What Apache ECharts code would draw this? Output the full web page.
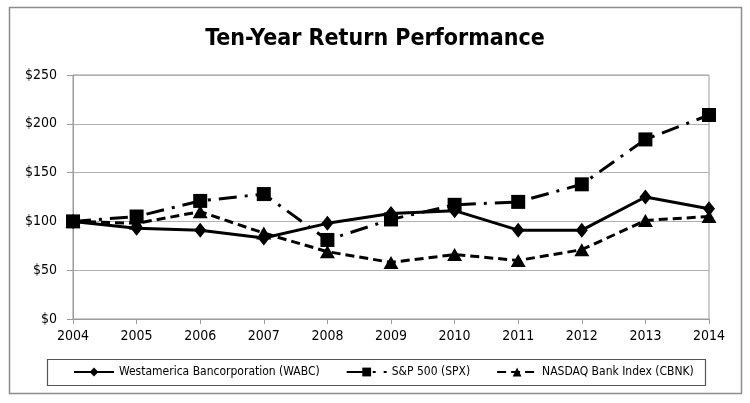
<!DOCTYPE html>
<html>
<head>
<meta charset="utf-8">
<script src="https://cdn.jsdelivr.net/npm/echarts@6/dist/echarts.min.js"></script>
<style>html,body{margin:0;padding:0;background:#fff}#c{width:750px;height:403px}</style>
</head>
<body>
<div id="c"></div>
<script>
const years = ['2004','2005','2006','2007','2008','2009','2010','2011','2012','2013','2014'];
const wabc = [100, 93, 91, 83, 98, 108, 111, 91, 91, 125, 113];
const spx  = [100, 105, 121, 128, 81, 102, 117, 120, 138, 184, 209];
const cbnk = [100, 98, 110, 88, 69, 58, 66, 60, 71, 101, 105];
const yTicks = [0, 50, 100, 150, 200, 250];

const FONT = '"DejaVu Sans Condensed", sans-serif';
const chart = echarts.init(document.getElementById('c'), null, {renderer: 'canvas'});
chart.setOption({
  animation: false,
  backgroundColor: '#fff',
  title: {
    text: 'Ten-Year Return Performance',
    left: 'center', top: 23,
    textStyle: {fontFamily: FONT, fontWeight: 'bold', fontSize: 23, color: '#000'}
  },
  graphic: [
    {type: 'rect', shape: {x: 9.5, y: 7.5, width: 732, height: 386}, style: {fill: null, stroke: '#8c8c8c', lineWidth: 1.5}, z: -1},
    {type: 'rect', shape: {x: 47.5, y: 359.5, width: 658, height: 26}, style: {fill: null, stroke: '#555', lineWidth: 1.2}, z: -1}
  ],
  legend: {
    left: 73, top: 366, width: 640,
    itemWidth: 40, itemHeight: 11, itemGap: 26,
    padding: 0,
    textStyle: {fontFamily: FONT, fontSize: 12, color: '#000'},
    data: ['Westamerica Bancorporation (WABC)', 'S&P 500 (SPX)', 'NASDAQ Bank Index (CBNK)']
  },
  grid: {left: 73, right: 41, top: 75, bottom: 84, show: true, borderColor: '#9a9a9a', borderWidth: 1},
  xAxis: {
    type: 'category', data: years, boundaryGap: false,
    axisLine: {lineStyle: {color: '#9a9a9a', width: 1}},
    axisTick: {show: true, length: 5, lineStyle: {color: '#9a9a9a'}},
    axisLabel: {fontFamily: FONT, fontSize: 14, color: '#000', margin: 10},
    splitLine: {show: false}
  },
  yAxis: {
    type: 'value', min: yTicks[0], max: yTicks[yTicks.length-1], interval: 50,
    axisLine: {show: true, lineStyle: {color: '#9a9a9a', width: 1}},
    axisTick: {show: true, length: 6, lineStyle: {color: '#9a9a9a'}},
    axisLabel: {fontFamily: FONT, fontSize: 14, color: '#000', margin: 16, formatter: v => '$' + v},
    splitLine: {lineStyle: {color: '#b0b0b0', width: 1}}
  },
  series: [
    {name: 'Westamerica Bancorporation (WABC)', type: 'line', data: wabc,
     symbol: 'diamond', symbolSize: [12, 15], itemStyle: {color: '#000'},
     lineStyle: {color: '#000', width: 3, type: 'solid'}, z: 3},
    {name: 'S&P 500 (SPX)', type: 'line', data: spx,
     symbol: 'rect', symbolSize: 14, itemStyle: {color: '#000'},
     lineStyle: {color: '#000', width: 3, type: [18, 8, 3, 8]}, z: 4},
    {name: 'NASDAQ Bank Index (CBNK)', type: 'line', data: cbnk,
     symbol: 'triangle', symbolSize: [15, 13], itemStyle: {color: '#000'},
     lineStyle: {color: '#000', width: 3, type: [9, 5]}, z: 2}
  ]
});
</script>
</body>
</html>
